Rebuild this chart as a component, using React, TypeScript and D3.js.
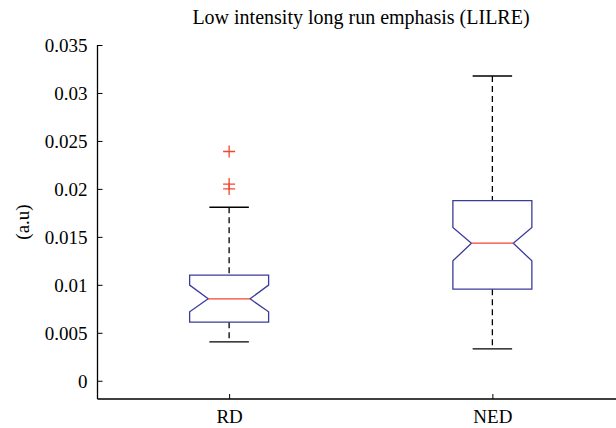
import React, { useEffect, useRef } from 'react';
import * as d3 from 'd3';

// Box plot statistics
const categories = ['RD', 'NED'];
const whiskerLow = [0.00406, 0.00333];
const q1 = [0.00611, 0.00955];
const notchLow = [0.00719, 0.0125];
const median = [0.00854, 0.01434];
const notchHigh = [0.00997, 0.01597];
const q3 = [0.01101, 0.01878];
const whiskerHigh = [0.01809, 0.03177];
const outliers = [[0.0239, 0.0205, 0.0200], []];

const yTicks = [0, 0.005, 0.01, 0.015, 0.02, 0.025, 0.03, 0.035];
const yTickLabels = ['0', '0.005', '0.01', '0.015', '0.02', '0.025', '0.03', '0.035'];

const App = () => {
  const svgRef = useRef(null);

  useEffect(() => {
    if (!svgRef.current) return;
    const svg = d3.select(svgRef.current);
    svg.selectAll('*').remove();

    const font = '"Liberation Serif", "Times New Roman", serif';
    const boxColor = '#3b3b9c';
    const redColor = '#f2462e';

    const x = d3.scaleLinear().domain([0.5, 2.5]).range([97.5, 624]);
    const y = d3.scaleLinear().domain([-0.0019, 0.035]).range([399, 45]);

    const boxHalf = x(1.15) - x(1);
    const capHalf = boxHalf / 2;
    const notchHalf = boxHalf * 0.53;

    // Axes
    const yAxis = svg.append('g')
      .attr('transform', `translate(${x.range()[0]},0)`)
      .call(d3.axisRight(y).tickValues(yTicks).tickSize(5).tickFormat('' as any));
    yAxis.select('.domain').attr('d', `M0,${y(0.035)}V${y.range()[0]}`);
    yAxis.selectAll('line').attr('stroke', '#000');

    yAxis.selectAll('.tick').append('text')
      .attr('x', -10)
      .attr('dy', '0.34em')
      .attr('text-anchor', 'end')
      .attr('fill', '#000')
      .style('font-family', font)
      .style('font-size', '19px')
      .text((d, i) => yTickLabels[i]);

    const xAxis = svg.append('g')
      .attr('transform', `translate(0,${y.range()[0]})`)
      .call(d3.axisTop(x).tickValues([1, 2]).tickSize(5).tickFormat('' as any));
    xAxis.select('.domain').attr('d', `M${x.range()[0]},0H${x.range()[1]}`);

    xAxis.selectAll('.tick').append('text')
      .attr('y', 24)
      .attr('text-anchor', 'middle')
      .attr('fill', '#000')
      .style('font-family', font)
      .style('font-size', '19px')
      .text((d, i) => categories[i]);

    svg.selectAll('.domain').attr('stroke', '#000').attr('stroke-width', 1.3);

    // Boxes
    categories.forEach((c, i) => {
      const cx = x(i + 1);
      const g = svg.append('g');

      // whiskers
      [[whiskerHigh[i], q3[i]], [q1[i], whiskerLow[i]]].forEach(([a, b]) => {
        g.append('line')
          .attr('x1', cx).attr('x2', cx)
          .attr('y1', y(a)).attr('y2', y(b))
          .attr('stroke', '#000')
          .attr('stroke-width', 1.3)
          .attr('stroke-dasharray', '6,4');
      });
      [whiskerHigh[i], whiskerLow[i]].forEach(v => {
        g.append('line')
          .attr('x1', cx - capHalf).attr('x2', cx + capHalf)
          .attr('y1', y(v)).attr('y2', y(v))
          .attr('stroke', '#000')
          .attr('stroke-width', 1.3);
      });

      // notched box
      const pts: [number, number][] = [
        [cx - boxHalf, y(q3[i])],
        [cx + boxHalf, y(q3[i])],
        [cx + boxHalf, y(notchHigh[i])],
        [cx + notchHalf, y(median[i])],
        [cx + boxHalf, y(notchLow[i])],
        [cx + boxHalf, y(q1[i])],
        [cx - boxHalf, y(q1[i])],
        [cx - boxHalf, y(notchLow[i])],
        [cx - notchHalf, y(median[i])],
        [cx - boxHalf, y(notchHigh[i])]
      ];
      g.append('path')
        .attr('d', d3.line()(pts) + 'Z')
        .attr('fill', 'none')
        .attr('stroke', boxColor)
        .attr('stroke-width', 1.3);

      g.append('line')
        .attr('x1', cx - notchHalf).attr('x2', cx + notchHalf)
        .attr('y1', y(median[i])).attr('y2', y(median[i]))
        .attr('stroke', redColor)
        .attr('stroke-width', 1.3);

      // outliers
      outliers[i].forEach(v => {
        g.append('path')
          .attr('d', `M${cx - 6},${y(v)}H${cx + 6}M${cx},${y(v) - 6}V${y(v) + 6}`)
          .attr('stroke', redColor)
          .attr('stroke-width', 1.3);
      });
    });

    // Title and y label
    svg.append('text')
      .attr('x', 361)
      .attr('y', 24)
      .attr('text-anchor', 'middle')
      .style('font-family', font)
      .style('font-size', '20px')
      .text('Low intensity long run emphasis (LILRE)');

    svg.append('text')
      .attr('transform', `translate(29,${(y(0.035) + y.range()[0]) / 2}) rotate(-90)`)
      .attr('text-anchor', 'middle')
      .style('font-family', font)
      .style('font-size', '19px')
      .text('(a.u)');
  }, []);

  return (
    <svg ref={svgRef} width={616} height={428}
      style={{ position: 'absolute', left: 0, top: 0, background: '#fff' }} />
  );
};

export default App;
